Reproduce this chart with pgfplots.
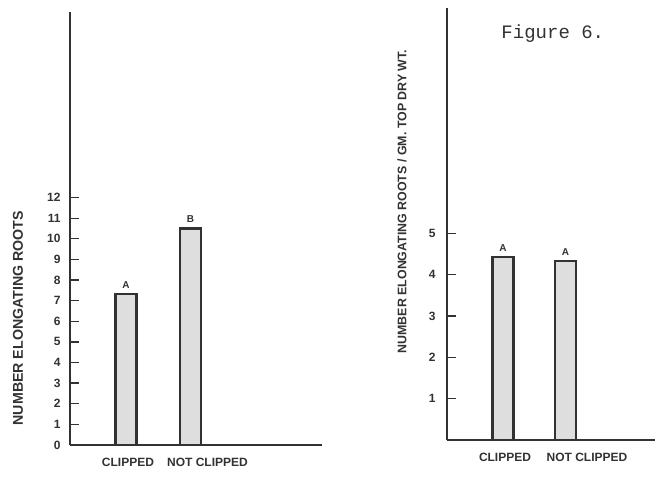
\documentclass[border=0pt]{standalone}
\usepackage{pgfplots}
\pgfplotsset{compat=1.18}
\usepackage{fontspec}
\setmainfont{Liberation Sans}
\newfontfamily\typew{Liberation Mono}
\definecolor{ink}{RGB}{50,50,50}
\definecolor{barfill}{RGB}{222,222,222}
\pgfplotsset{
  panel/.style={
    scale only axis,
    axis lines*=left,
    axis line style={ink, line width=1.8pt},
    tick style={ink, line width=1.3pt},
    major tick length=9pt,
    tick align=inside,
    /pgf/number format/assume math mode=true,
    tick label style={font=\bfseries\fontsize{12}{14}\selectfont, text=ink},
    xticklabel style={yshift=-10pt},
    xtick style={draw=none},
    ymin=0, xmin=0,
    clip=false,
  },
  barstyle/.style={ybar, bar width=21, fill=barfill, draw=ink, line width=2.4pt,
    nodes near coords, point meta=explicit symbolic,
    every node near coord/.append style={font=\bfseries\fontsize{10}{11}\selectfont, text=ink, yshift=1pt}},
}
\begin{document}
\begin{tikzpicture}
\useasboundingbox (0,0) rectangle (655pt,477pt);
% left panel
\begin{axis}[panel,
  at={(70pt,32pt)}, anchor=origin,
  width=252pt, height=433pt,
  xmax=252, ymax=21,
  ytick={0,1,...,12},
  xtick={58,137.5},
  xticklabels={CLIPPED, NOT CLIPPED},
  yticklabel style={xshift=-6pt},
  every axis y label/.style={at={(rel axis cs:0,0.293)}, xshift=-52pt, rotate=90, anchor=center, font=\bfseries\fontsize{14.2}{16}\selectfont, text=ink},
  ylabel={NUMBER ELONGATING ROOTS},
]
\addplot[barstyle] coordinates {(56,7.33) [A] (120.5,10.5) [B]};
\end{axis}
% right panel
\begin{axis}[panel,
  at={(447pt,37pt)}, anchor=origin,
  width=208pt, height=432pt,
  xmax=208, ymax=10.46,
  ytick={1,2,3,4,5},
  xtick={58,140},
  xticklabels={CLIPPED, NOT CLIPPED},
  yticklabel style={xshift=-8pt},
  every axis y label/.style={at={(rel axis cs:0,0.552)}, xshift=-45pt, rotate=90, anchor=center, font=\bfseries\fontsize{12.4}{14}\selectfont, text=ink},
  ylabel={NUMBER ELONGATING ROOTS / GM. TOP DRY WT.},
]
\addplot[barstyle] coordinates {(56,4.43) [A] (118.5,4.33) [A]};
\node[anchor=west, font=\typew\fontsize{19}{22}\selectfont, text=ink] at (rel axis cs:0.245,0.94) {Figure 6.};
\end{axis}
\end{tikzpicture}
\end{document}
